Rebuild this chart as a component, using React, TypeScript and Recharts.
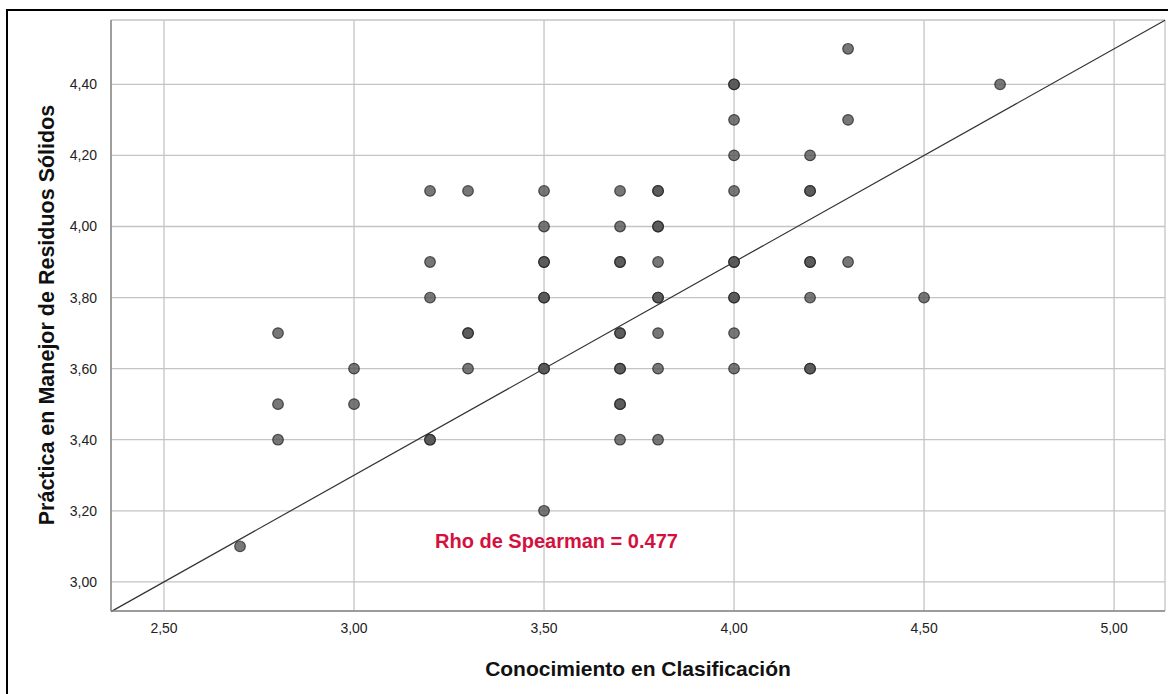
import React from "react";
import { ScatterChart, Scatter, XAxis, YAxis, CartesianGrid, ReferenceLine } from "recharts";

// x = Conocimiento en Clasificación, y = Práctica en Manejo de Residuos Sólidos
// repeated pairs are listed twice (they show darker in the original)
const conocimiento = [
  2.7,
  2.8, 2.8, 2.8,
  3.0, 3.0,
  3.2, 3.2, 3.2, 3.2, 3.2,
  3.3, 3.3, 3.3, 3.3,
  3.5, 3.5, 3.5, 3.5, 3.5, 3.5, 3.5, 3.5, 3.5,
  3.7, 3.7, 3.7, 3.7, 3.7, 3.7, 3.7, 3.7, 3.7, 3.7, 3.7,
  3.8, 3.8, 3.8, 3.8, 3.8, 3.8, 3.8, 3.8, 3.8, 3.8,
  4.0, 4.0, 4.0, 4.0, 4.0, 4.0, 4.0, 4.0, 4.0, 4.0, 4.0,
  4.2, 4.2, 4.2, 4.2, 4.2, 4.2, 4.2, 4.2,
  4.3, 4.3, 4.3,
  4.5,
  4.7,
];
const practica = [
  3.1,
  3.7, 3.5, 3.4,
  3.6, 3.5,
  4.1, 3.9, 3.8, 3.4, 3.4,
  4.1, 3.7, 3.7, 3.6,
  4.1, 4.0, 3.9, 3.9, 3.8, 3.8, 3.6, 3.6, 3.2,
  4.1, 4.0, 3.9, 3.9, 3.7, 3.7, 3.6, 3.6, 3.5, 3.5, 3.4,
  4.1, 4.1, 4.0, 4.0, 3.9, 3.8, 3.8, 3.7, 3.6, 3.4,
  4.4, 4.4, 4.3, 4.2, 4.1, 3.9, 3.9, 3.8, 3.8, 3.7, 3.6,
  4.2, 4.1, 4.1, 3.9, 3.9, 3.8, 3.6, 3.6,
  4.5, 4.3, 3.9,
  3.8,
  4.4,
];

const xTicks = [2.5, 3.0, 3.5, 4.0, 4.5, 5.0];
const yTicks = [3.0, 3.2, 3.4, 3.6, 3.8, 4.0, 4.2, 4.4];

// linear fit shown in the chart
const fitIntercept = 1.5;
const fitSlope = 0.6;
const rho = "0.477";

const xDomain: [number, number] = [2.3605, 5.134];
const yDomain: [number, number] = [2.918, 4.581];

const points = conocimiento.map((x, i) => ({ x, y: practica[i] }));
const fitLine = xDomain.map((x) => ({ x, y: fitIntercept + fitSlope * x }));

const fmt = (v: number) => v.toFixed(2).replace(".", ",");
const font = "Arial, 'Liberation Sans', sans-serif";

function Dot({ cx, cy }: any) {
  if (cx == null || cy == null) return null;
  return (
    <circle cx={cx} cy={cy} r={5.3} fill="#555" fillOpacity={0.8}
      stroke="#222" strokeOpacity={0.75} strokeWidth={1.2} />
  );
}

export default function App() {
  return (
    <div style={{ position: "absolute", left: 0, top: 0, width: 1168, height: 694, background: "#fff", fontFamily: font }}>
      <div style={{ position: "absolute", left: 6, top: 9, width: 1162, height: 690, borderTop: "2px solid #000", borderLeft: "2px solid #000" }} />
      <ScatterChart width={1168} height={694} margin={{ top: 20, right: 3, bottom: 53, left: 51 }}
        style={{ position: "absolute", left: 0, top: 0 }}>
        <CartesianGrid stroke="#c4c4c4" strokeWidth={1.3} />
        <XAxis type="number" dataKey="x" domain={xDomain} ticks={xTicks} tickFormatter={fmt}
          allowDataOverflow height={30} tickLine={false} axisLine={{ stroke: "#8a8a8a", strokeWidth: 1.5 }}
          tick={{ fill: "#222", fontSize: 14, fontFamily: font }} tickMargin={6} />
        <YAxis type="number" dataKey="y" domain={yDomain} ticks={yTicks} tickFormatter={fmt}
          allowDataOverflow width={60} tickLine={false} axisLine={{ stroke: "#8a8a8a", strokeWidth: 1.5 }}
          tick={{ fill: "#222", fontSize: 14, fontFamily: font }} tickMargin={8} />
        <ReferenceLine segment={fitLine} stroke="#333" strokeWidth={1.2} ifOverflow="visible" />
        <Scatter data={points} shape={<Dot />} isAnimationActive={false} />
        <text x={638} y={676} textAnchor="middle" fontSize={21} fontWeight="bold" fill="#111" fontFamily={font}>
          Conocimiento en Clasificación
        </text>
        <text x={54} y={315} textAnchor="middle" fontSize={21.5} fontWeight="bold" fill="#111" fontFamily={font}
          transform="rotate(-90 54 315)">
          Práctica en Manejor de Residuos Sólidos
        </text>
        <text x={435} y={548} fontSize={20} fontWeight="bold" fill="#d4103f" fontFamily={font}>
          Rho de Spearman = {rho}
        </text>
      </ScatterChart>
    </div>
  );
}
